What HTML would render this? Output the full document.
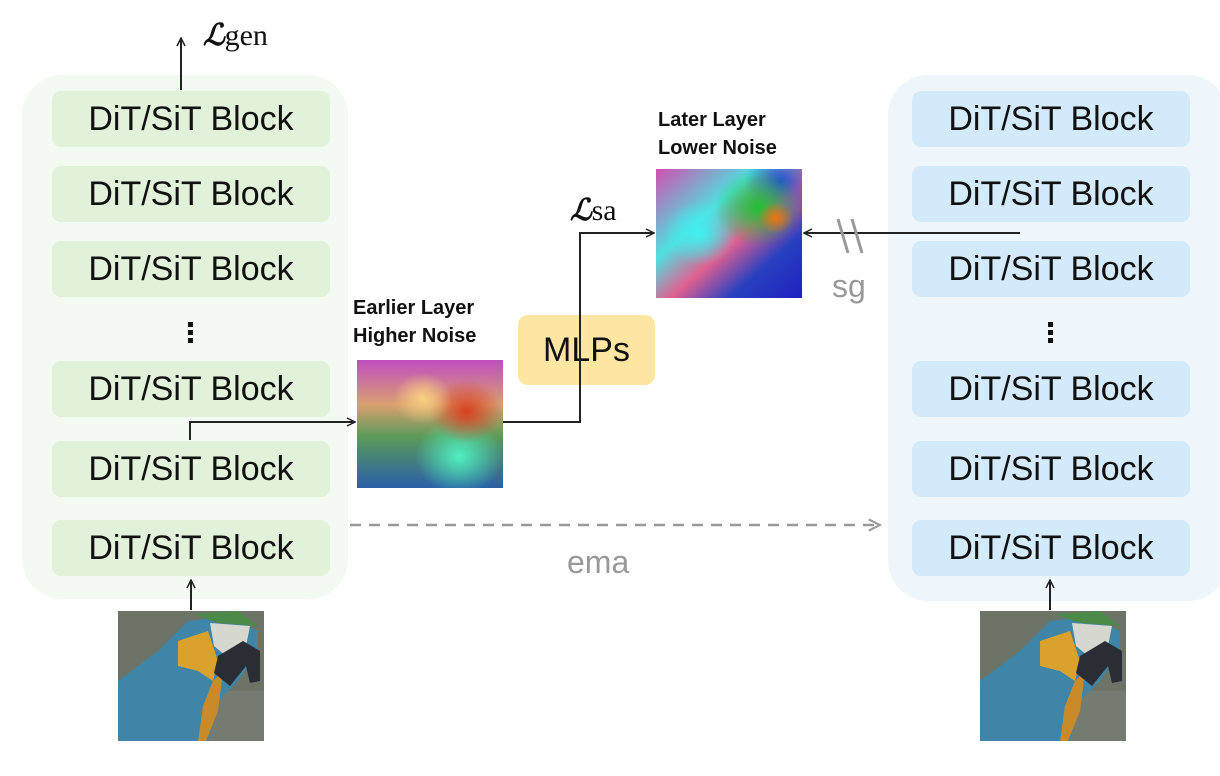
<!DOCTYPE html>
<html><head><meta charset="utf-8"><style>
body{margin:0;width:1220px;height:776px;background:#fff;position:relative;overflow:hidden;font-family:"Liberation Sans",sans-serif}
.panel{position:absolute;border-radius:40px}
.blk{position:absolute;width:278px;height:56px;border-radius:9px;font-size:34px;line-height:56px;text-align:center;color:#111}
.g{background:#e2f1da;left:52px}
.b{background:#d3eafb;left:912px}
.dots{position:absolute;font-size:34px;font-weight:bold;line-height:1}
.lbl{position:absolute;font-weight:bold;font-size:20px;line-height:28px;color:#111}
</style></head><body>
<div class="panel" style="left:22px;top:75px;width:326px;height:524px;background:#f3faf1"></div>
<div class="panel" style="left:888px;top:75px;width:340px;height:526px;background:#eef6fc"></div>

<div class="blk g" style="top:91px">DiT/SiT Block</div>
<div class="blk g" style="top:166px">DiT/SiT Block</div>
<div class="blk g" style="top:241px">DiT/SiT Block</div>
<div class="blk g" style="top:361px">DiT/SiT Block</div>
<div class="blk g" style="top:441px">DiT/SiT Block</div>
<div class="blk g" style="top:520px">DiT/SiT Block</div>
<div style="position:absolute;left:188px;top:322px;width:5px;height:5px;background:#111;box-shadow:0 8px 0 #111,0 16px 0 #111"></div>

<div class="blk b" style="top:91px">DiT/SiT Block</div>
<div class="blk b" style="top:166px">DiT/SiT Block</div>
<div class="blk b" style="top:241px">DiT/SiT Block</div>
<div class="blk b" style="top:361px">DiT/SiT Block</div>
<div class="blk b" style="top:441px">DiT/SiT Block</div>
<div class="blk b" style="top:520px">DiT/SiT Block</div>
<div style="position:absolute;left:1048px;top:322px;width:5px;height:5px;background:#111;box-shadow:0 8px 0 #111,0 16px 0 #111"></div>

<div style="position:absolute;left:518px;top:315px;width:137px;height:70px;border-radius:10px;background:#fde5a2;font-size:34px;line-height:70px;text-align:center;color:#111">MLPs</div>

<div class="lbl" style="left:353px;top:294px">Earlier Layer<br>Higher Noise</div>
<div class="lbl" style="left:658px;top:106px">Later Layer<br>Lower Noise</div>

<svg width="1220" height="776" style="position:absolute;left:0;top:0">
<defs>
<linearGradient id="h1a" x1="0" y1="0" x2="0" y2="1">
<stop offset="0" stop-color="#c04ec0"/><stop offset="0.35" stop-color="#d9a070"/><stop offset="0.6" stop-color="#5a9a5a"/><stop offset="1" stop-color="#2a5fa8"/></linearGradient>
<radialGradient id="h1b" cx="0.7" cy="0.75" r="0.3"><stop offset="0" stop-color="#50f0c0"/><stop offset="1" stop-color="#50f0c0" stop-opacity="0"/></radialGradient>
<radialGradient id="h1c" cx="0.75" cy="0.4" r="0.25"><stop offset="0" stop-color="#d84020"/><stop offset="1" stop-color="#d84020" stop-opacity="0"/></radialGradient>
<radialGradient id="h1d" cx="0.45" cy="0.3" r="0.2"><stop offset="0" stop-color="#f8d080"/><stop offset="1" stop-color="#f8d080" stop-opacity="0"/></radialGradient>
<linearGradient id="h2a" x1="0" y1="0" x2="1" y2="1">
<stop offset="0" stop-color="#d050b0"/><stop offset="0.35" stop-color="#50e0e0"/><stop offset="0.55" stop-color="#e06090"/><stop offset="0.75" stop-color="#2840c0"/><stop offset="1" stop-color="#2020c0"/></linearGradient>
<radialGradient id="h2b" cx="0.7" cy="0.3" r="0.3"><stop offset="0" stop-color="#20c030"/><stop offset="1" stop-color="#20c030" stop-opacity="0"/></radialGradient>
<radialGradient id="h2c" cx="0.82" cy="0.38" r="0.12"><stop offset="0" stop-color="#f07010"/><stop offset="1" stop-color="#f07010" stop-opacity="0"/></radialGradient>
<radialGradient id="h2d" cx="0.3" cy="0.5" r="0.25"><stop offset="0" stop-color="#40f0f0"/><stop offset="1" stop-color="#40f0f0" stop-opacity="0"/></radialGradient>
<radialGradient id="h2e" cx="0.85" cy="0.1" r="0.25"><stop offset="0" stop-color="#2050d0"/><stop offset="1" stop-color="#2050d0" stop-opacity="0"/></radialGradient>
<g id="parrot">
<rect width="146" height="130" fill="#6b7466"/>
<rect y="80" width="146" height="50" fill="#7a8278" opacity=".6"/>
<path d="M0 70 L40 40 L70 10 L110 5 L140 20 L140 40 L120 70 L100 90 L90 130 L0 130Z" fill="#3f85a8"/>
<path d="M60 30 L90 20 L100 50 L95 70 L80 60 L60 55Z" fill="#d9a22c"/>
<path d="M95 70 L105 60 L100 100 L88 130 L80 130 L85 95Z" fill="#c98a2a"/>
<path d="M92 12 L132 15 L128 35 L108 45 L96 35Z" fill="#d6d8d0"/>
<path d="M100 45 L125 30 L142 40 L142 70 L132 72 L128 55 L112 75 L96 62Z" fill="#2a2d33"/>
<path d="M75 3 L120 0 L140 15 L100 12Z" fill="#4c8a4a"/>
</g>
<marker id="ar" viewBox="0 0 10 10" refX="9" refY="5" markerWidth="10" markerHeight="10" markerUnits="userSpaceOnUse" orient="auto"><path d="M1 1 L9 5 L1 9" fill="none" stroke="#222" stroke-width="1.5"/></marker>
<marker id="arg" viewBox="0 0 10 10" refX="9" refY="5" markerWidth="14" markerHeight="14" markerUnits="userSpaceOnUse" orient="auto"><path d="M1 1 L9 5 L1 9" fill="none" stroke="#999" stroke-width="1.5"/></marker>
</defs>
<!-- heatmaps -->
<rect x="357" y="360" width="146" height="128" fill="url(#h1a)"/>
<rect x="357" y="360" width="146" height="128" fill="url(#h1b)"/>
<rect x="357" y="360" width="146" height="128" fill="url(#h1c)"/>
<rect x="357" y="360" width="146" height="128" fill="url(#h1d)"/>
<rect x="656" y="169" width="146" height="129" fill="url(#h2a)"/>
<rect x="656" y="169" width="146" height="129" fill="url(#h2e)"/>
<rect x="656" y="169" width="146" height="129" fill="url(#h2d)"/>
<rect x="656" y="169" width="146" height="129" fill="url(#h2b)"/>
<rect x="656" y="169" width="146" height="129" fill="url(#h2c)"/>
<use href="#parrot" x="118" y="611"/>
<use href="#parrot" x="980" y="611"/>
<g stroke="#222" stroke-width="2" fill="none">
<line x1="181" y1="90" x2="181" y2="38" marker-end="url(#ar)"/>
<line x1="191" y1="610" x2="191" y2="580" marker-end="url(#ar)"/>
<line x1="1050" y1="610" x2="1050" y2="580" marker-end="url(#ar)"/>
<polyline points="190,440 190,422 355,422" marker-end="url(#ar)"/>
<polyline points="503,422 580,422 580,233 654,233" marker-end="url(#ar)"/>
<line x1="1020" y1="233" x2="804" y2="233" marker-end="url(#ar)"/>
</g>
<line x1="350" y1="525" x2="880" y2="525" stroke="#999" stroke-width="2.5" stroke-dasharray="11,8" marker-end="url(#arg)"/>
<g stroke="#999" stroke-width="3"><line x1="838" y1="219" x2="848" y2="253"/><line x1="852" y1="219" x2="862" y2="253"/></g>
<text x="832" y="297" font-size="32" fill="#999" font-family="Liberation Sans">sg</text>
<text x="567" y="573" font-size="32" fill="#999" font-family="Liberation Sans">ema</text>
<text x="203" y="45" font-size="30" fill="#111" font-family="Liberation Serif"><tspan font-style="italic" font-weight="bold">ℒ</tspan>gen</text>
<text x="570" y="220" font-size="30" fill="#111" font-family="Liberation Serif"><tspan font-style="italic" font-weight="bold">ℒ</tspan>sa</text>
</svg>
</body></html>
